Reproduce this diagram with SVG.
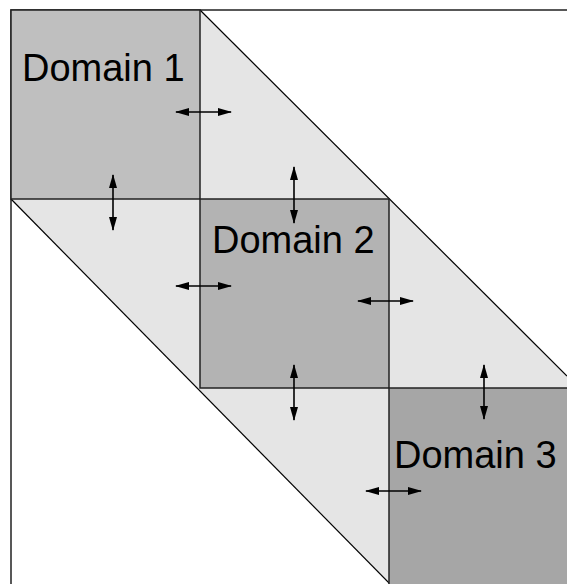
<svg xmlns="http://www.w3.org/2000/svg" width="567" height="584" viewBox="0 0 567 584">
<style>
.band{fill:#e5e5e5;stroke:none}
.diag{stroke:#000;stroke-width:1.2;fill:none}
.dom{stroke:#222;stroke-width:1.5}
.lbl{font-family:"Liberation Sans",Arial,sans-serif;font-size:38px;fill:#000}
.arr{stroke:#000;stroke-width:1.6;fill:none;marker-start:url(#ah);marker-end:url(#ah)}
</style>
<defs>
<marker id="ah" viewBox="0 0 14 8" refX="13" refY="4" markerWidth="14" markerHeight="8" markerUnits="userSpaceOnUse" orient="auto-start-reverse">
<path d="M0,0 L14,4 L0,8 Z" fill="#000"/>
</marker>
</defs>
<rect x="0" y="0" width="567" height="584" fill="#fff"/>
<polygon class="band" points="11,10 200,10 567,376 567,584 391,584 11,199"/>
<rect x="11" y="10" width="600" height="600" fill="none" stroke="#222" stroke-width="1.5"/>
<g id="connectors-diag">
<line class="diag" x1="200" y1="10" x2="567" y2="376"/>
<line class="diag" x1="11" y1="199" x2="390" y2="584"/>
</g>
<g id="domain1">
<rect class="dom" x="11" y="10" width="189" height="189" fill="#bfbfbf"/>
<text class="lbl" x="22" y="81">Domain 1</text>
</g>
<g id="domain2">
<rect class="dom" x="200" y="199" width="189" height="189" fill="#b3b3b3"/>
<text class="lbl" x="212" y="253">Domain 2</text>
</g>
<g id="domain3">
<rect class="dom" x="389" y="388" width="200" height="210" fill="#a6a6a6"/>
<text class="lbl" x="394" y="468">Domain 3</text>
</g>
<g id="connectors">
<line class="arr" x1="176" y1="112" x2="231" y2="112"/>
<line class="arr" x1="113" y1="175" x2="113" y2="230"/>
<line class="arr" x1="294" y1="167" x2="294" y2="223"/>
<line class="arr" x1="176" y1="286" x2="231" y2="286"/>
<line class="arr" x1="358" y1="301" x2="413" y2="301"/>
<line class="arr" x1="294" y1="365" x2="294" y2="420"/>
<line class="arr" x1="484" y1="365" x2="484" y2="419"/>
<line class="arr" x1="366" y1="491" x2="421" y2="491"/>
</g>
</svg>
